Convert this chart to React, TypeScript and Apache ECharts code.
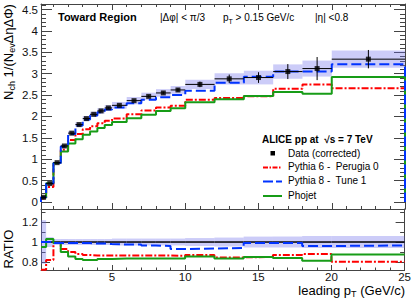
import React, { useEffect, useRef } from "react";
import * as echarts from "echarts";

const binEdges = [0.15, 0.5, 1, 1.5, 2, 2.5, 3, 3.5, 4, 4.5, 5, 6, 7, 8, 9, 10, 12, 14, 16, 18, 20, 25];
const dataValues = [0.11, 0.43, 0.92, 1.31, 1.61, 1.81, 1.95, 2.05, 2.13, 2.2, 2.26, 2.37, 2.47, 2.55, 2.62, 2.75, 2.88, 2.91, 3.05, 3.12, 3.34];
const dataStatErrors = [0.005, 0.005, 0.01, 0.01, 0.01, 0.01, 0.01, 0.01, 0.015, 0.015, 0.015, 0.02, 0.025, 0.03, 0.04, 0.065, 0.1, 0.125, 0.175, 0.27, 0.215];
const dataSystFractions = [0.22, 0.05, 0.03, 0.03, 0.03, 0.03, 0.03, 0.03, 0.03, 0.03, 0.035, 0.035, 0.035, 0.035, 0.035, 0.04, 0.045, 0.055, 0.055, 0.06, 0.06];
const pythia6Values = [0.08, 0.35, 0.91, 1.22, 1.45, 1.59, 1.7, 1.77, 1.84, 1.9, 1.95, 2.05, 2.14, 2.21, 2.25, 2.39, 2.43, 2.47, 2.65, 2.75, 2.66];
const pythia8Values = [0.11, 0.43, 0.91, 1.3, 1.59, 1.79, 1.93, 2.02, 2.1, 2.16, 2.21, 2.31, 2.39, 2.45, 2.5, 2.6, 2.79, 2.93, 3.05, 3.05, 3.22];
const phojetValues = [0.105, 0.44, 0.91, 1.18, 1.37, 1.47, 1.57, 1.65, 1.73, 1.8, 1.87, 1.96, 2.04, 2.13, 2.19, 2.33, 2.4, 2.48, 2.57, 2.53, 2.92];
const pythia6Ratios = [0.72, 0.82, 0.99, 0.93, 0.9, 0.88, 0.87, 0.865, 0.865, 0.865, 0.865, 0.865, 0.865, 0.865, 0.86, 0.87, 0.845, 0.85, 0.87, 0.88, 0.8];
const pythia8Ratios = [1.0, 1.0, 0.99, 0.99, 0.99, 0.99, 0.99, 0.985, 0.985, 0.98, 0.975, 0.975, 0.965, 0.96, 0.93, 0.935, 0.94, 0.99, 0.99, 0.96, 0.965];
const phojetRatios = [0.95, 1.03, 0.99, 0.9, 0.855, 0.83, 0.82, 0.82, 0.83, 0.83, 0.835, 0.835, 0.835, 0.835, 0.835, 0.855, 0.835, 0.85, 0.84, 0.81, 0.875];

const xMajorTicks = [5, 10, 15, 20, 25];
const xMinorTicks = Array.from({ length: 25 }, (_, i) => i + 1);
const yMajorTicks = [0, 0.5, 1, 1.5, 2, 2.5, 3, 3.5, 4, 4.5];
const yMinorTicks = Array.from({ length: 47 }, (_, i) => +(i * 0.1).toFixed(1));
const ratioMajorTicks = [0.8, 1, 1.2];
const ratioMinorTicks = [0.8, 0.9, 1, 1.1, 1.2, 1.3];

const FONT = '"Liberation Sans", Arial, Helvetica, sans-serif';
const AXIS_COLOR = "#444";
const BAND_COLOR = "rgba(110,110,235,0.35)";
const RED = "#ff0000";
const BLUE = "#0033ff";
const GREEN = "#179c17";

const X_MIN = 0.15, X_MAX = 25;
const Y_MIN = -0.164, Y_MAX = 4.63;
const R_MIN = 0.718, R_MAX = 1.333;

function stepPoints(vals: number[], dropEnds: boolean) {
  const pts: number[][] = [];
  if (dropEnds) pts.push([binEdges[0], 0]);
  vals.forEach((v, i) => pts.push([binEdges[i], v]));
  pts.push([binEdges[binEdges.length - 1], vals[vals.length - 1]]);
  if (dropEnds) pts.push([binEdges[binEdges.length - 1], 0]);
  return pts;
}

function xAxisDef(grid: number, position: string, ticks: number[], len: number, showLine: boolean, labels: boolean) {
  return {
    type: "value", gridIndex: grid, position, min: X_MIN, max: X_MAX,
    splitLine: { show: false },
    axisLine: { show: showLine, onZero: false, lineStyle: { color: AXIS_COLOR, width: 1 } },
    axisTick: { show: true, inside: true, length: len, customValues: ticks, lineStyle: { color: AXIS_COLOR } },
    axisLabel: labels
      ? { show: true, customValues: ticks, margin: 1, fontSize: 11.5, color: "#111", fontFamily: FONT, showMinLabel: true, showMaxLabel: true }
      : { show: false },
  };
}

function yAxisDef(grid: number, position: string, min: number, max: number, ticks: number[], len: number, showLine: boolean) {
  return {
    type: "value", gridIndex: grid, position, min, max,
    splitLine: { show: false },
    axisLine: { show: showLine, onZero: false, lineStyle: { color: AXIS_COLOR, width: 1 } },
    axisTick: { show: true, inside: true, length: len, customValues: ticks, lineStyle: { color: AXIS_COLOR } },
    axisLabel: { show: false },
  };
}

export default function App() {
  const ref = useRef<HTMLDivElement>(null);
  useEffect(() => {
    document.body.style.margin = "0";
    if (!ref.current) return;
    const chart = echarts.init(ref.current, undefined, { renderer: "svg" });

    const bandTop = dataValues.map((v, i) => [binEdges[i], binEdges[i + 1], v, v * dataSystFractions[i], dataStatErrors[i]]);
    const bandRatio = dataValues.map((v, i) => [binEdges[i], binEdges[i + 1], 1, dataSystFractions[i]]);
    const centers = dataValues.map((v, i) => [(binEdges[i] + binEdges[i + 1]) / 2, v]);

    const sub = (size: number) => ({ fontSize: size, fontFamily: FONT, color: "#000", lineHeight: 6, verticalAlign: "bottom" });
    const norm = (size: number) => ({ fontSize: size, fontFamily: FONT, color: "#000", lineHeight: 16 });

    const option: any = {
      animation: false,
      grid: [
        { left: 41, right: 9, top: 4, height: 205 },
        { left: 41, right: 9, top: 209, height: 61 },
      ],
      xAxis: [
        xAxisDef(0, "bottom", xMajorTicks, 6, true, false),
        xAxisDef(0, "bottom", xMinorTicks, 3, false, false),
        xAxisDef(0, "top", xMajorTicks, 6, true, false),
        xAxisDef(0, "top", xMinorTicks, 3, false, false),
        xAxisDef(1, "bottom", xMajorTicks, 5, true, true),
        xAxisDef(1, "bottom", xMinorTicks, 2.5, false, false),
      ],
      yAxis: [
        yAxisDef(0, "left", Y_MIN, Y_MAX, yMajorTicks, 11, true),
        yAxisDef(0, "left", Y_MIN, Y_MAX, yMinorTicks, 5, false),
        yAxisDef(0, "right", Y_MIN, Y_MAX, yMajorTicks, 11, true),
        yAxisDef(0, "right", Y_MIN, Y_MAX, yMinorTicks, 5, false),
        yAxisDef(1, "left", R_MIN, R_MAX, ratioMajorTicks, 9, true),
        yAxisDef(1, "left", R_MIN, R_MAX, ratioMinorTicks, 4.5, false),
        yAxisDef(1, "right", R_MIN, R_MAX, ratioMajorTicks, 9, true),
        yAxisDef(1, "right", R_MIN, R_MAX, ratioMinorTicks, 4.5, false),
      ],
      series: [
        {
          type: "custom", xAxisIndex: 0, yAxisIndex: 0, clip: true, z: 1,
          data: bandTop,
          encode: { x: [0, 1], y: 2 },
          renderItem: (params: any, api: any) => {
            const x0 = api.value(0), x1 = api.value(1), v = api.value(2), e = api.value(3);
            const a = api.coord([x0, v + e]);
            const b = api.coord([x1, v - e]);
            return { type: "rect", shape: { x: a[0], y: a[1], width: b[0] - a[0], height: b[1] - a[1] }, style: { fill: BAND_COLOR } };
          },
        },
        {
          type: "line", xAxisIndex: 0, yAxisIndex: 0, step: "end", symbol: "none", z: 3,
          data: stepPoints(pythia6Values, true),
          lineStyle: { color: RED, width: 2, type: [7, 2, 2, 2] },
        },
        {
          type: "line", xAxisIndex: 0, yAxisIndex: 0, step: "end", symbol: "none", z: 3,
          data: stepPoints(phojetValues, true),
          lineStyle: { color: GREEN, width: 2, type: "solid" },
        },
        {
          type: "line", xAxisIndex: 0, yAxisIndex: 0, step: "end", symbol: "none", z: 4,
          data: stepPoints(pythia8Values, true),
          lineStyle: { color: BLUE, width: 2, type: [10, 4] },
        },
        {
          type: "custom", xAxisIndex: 0, yAxisIndex: 0, clip: true, z: 5,
          data: bandTop,
          encode: { x: [0, 1], y: 2 },
          renderItem: (params: any, api: any) => {
            const x0 = api.value(0), x1 = api.value(1), v = api.value(2), s = api.value(4);
            const a = api.coord([x0, v]);
            const b = api.coord([x1, v]);
            const c = api.coord([(x0 + x1) / 2, v + s]);
            const d = api.coord([(x0 + x1) / 2, v - s]);
            return {
              type: "group",
              children: [
                { type: "line", shape: { x1: a[0], y1: a[1], x2: b[0], y2: b[1] }, style: { stroke: "#000", lineWidth: 1 } },
                { type: "line", shape: { x1: c[0], y1: c[1], x2: d[0], y2: d[1] }, style: { stroke: "#000", lineWidth: 1 } },
              ],
            };
          },
        },
        {
          type: "scatter", xAxisIndex: 0, yAxisIndex: 0, z: 6,
          data: centers, symbol: "rect", symbolSize: 5,
          itemStyle: { color: "#000" },
        },
        {
          type: "custom", xAxisIndex: 4, yAxisIndex: 4, clip: true, z: 1,
          data: bandRatio,
          encode: { x: [0, 1], y: 2 },
          renderItem: (params: any, api: any) => {
            const x0 = api.value(0), x1 = api.value(1), v = api.value(2), e = api.value(3);
            const a = api.coord([x0, v + e]);
            const b = api.coord([x1, v - e]);
            const c = api.coord([x0, v]);
            const d = api.coord([x1, v]);
            return {
              type: "group",
              children: [
                { type: "rect", shape: { x: a[0], y: a[1], width: b[0] - a[0], height: b[1] - a[1] }, style: { fill: BAND_COLOR } },
                { type: "line", shape: { x1: c[0], y1: c[1], x2: d[0], y2: d[1] }, style: { stroke: "#000", lineWidth: 1.5 } },
              ],
            };
          },
        },
        {
          type: "line", xAxisIndex: 4, yAxisIndex: 4, step: "end", symbol: "none", z: 3,
          data: stepPoints(pythia6Ratios, false),
          lineStyle: { color: RED, width: 2, type: [7, 2, 2, 2] },
        },
        {
          type: "line", xAxisIndex: 4, yAxisIndex: 4, step: "end", symbol: "none", z: 3,
          data: stepPoints(phojetRatios, false),
          lineStyle: { color: GREEN, width: 2, type: "solid" },
        },
        {
          type: "line", xAxisIndex: 4, yAxisIndex: 4, step: "end", symbol: "none", z: 4,
          data: stepPoints(pythia8Ratios, false),
          lineStyle: { color: BLUE, width: 2, type: [10, 4] },
        },
      ],
    };
    chart.setOption(option);

    const labelStyle = { fontSize: 11.5, fontFamily: FONT, fill: "#111", align: "right", verticalAlign: "middle" };
    const fmt = (v: number) => String(+v.toFixed(2));
    const yLabels = yMajorTicks.map((v) => ({
      type: "text", z: 100, x: 38, y: chart.convertToPixel({ yAxisIndex: 0 }, v) as number,
      style: { ...labelStyle, text: fmt(v) },
    }));
    const rLabels = ratioMajorTicks.map((v) => ({
      type: "text", z: 100, x: 38, y: chart.convertToPixel({ yAxisIndex: 4 }, v) as number,
      style: { ...labelStyle, text: fmt(v) },
    }));

    const graphics: any[] = [
      ...yLabels,
      ...rLabels,
      {
        type: "text", x: 8, y: 52, rotation: Math.PI / 2,
        style: {
          text: "{n|N}{s|ch}{n| 1/(N}{s|ev}{n|ΔηΔΦ)}",
          rich: { n: norm(13), s: sub(9) },
          align: "center", verticalAlign: "middle",
        },
      },
      {
        type: "text", x: 8, y: 249, rotation: Math.PI / 2,
        style: { text: "RATIO", fontSize: 13, fontFamily: FONT, fill: "#000", align: "center", verticalAlign: "middle" },
      },
      {
        type: "text", x: 405, y: 290,
        style: {
          text: "{n|leading p}{s|T}{n| (GeV/c)}",
          rich: { n: norm(13), s: sub(9) },
          align: "right", verticalAlign: "middle",
        },
      },
      {
        type: "text", x: 58, y: 17,
        style: { text: "Toward Region", fontSize: 11, fontWeight: "bold", fontFamily: FONT, fill: "#000", align: "left", verticalAlign: "middle" },
      },
      {
        type: "text", x: 160, y: 17,
        style: { text: "|Δφ| < π/3", fontSize: 10, fontFamily: FONT, fill: "#000", align: "left", verticalAlign: "middle" },
      },
      {
        type: "text", x: 223, y: 17,
        style: {
          text: "{n|p}{s|T}{n| > 0.15 GeV/c}",
          rich: { n: norm(10), s: sub(7) },
          align: "left", verticalAlign: "middle",
        },
      },
      {
        type: "text", x: 315, y: 17,
        style: { text: "|η| <0.8", fontSize: 10, fontFamily: FONT, fill: "#000", align: "left", verticalAlign: "middle" },
      },
      {
        type: "text", x: 262, y: 139.5,
        style: { text: "ALICE pp at  √s = 7 TeV", fontSize: 10, fontWeight: "bold", fontFamily: FONT, fill: "#000", align: "left", verticalAlign: "middle" },
      },
      { type: "rect", shape: { x: 270.5, y: 151, width: 4.5, height: 4.5 }, style: { fill: "#000" } },
      {
        type: "text", x: 288, y: 153.5,
        style: { text: "Data (corrected)", fontSize: 10, fontFamily: FONT, fill: "#000", align: "left", verticalAlign: "middle" },
      },
      { type: "line", shape: { x1: 263, y1: 167.5, x2: 282, y2: 167.5 }, style: { stroke: RED, lineWidth: 2, lineDash: [5, 1.5, 1.5, 1.5] } },
      {
        type: "text", x: 288, y: 166.5,
        style: { text: "Pythia 6 -  Perugia 0", fontSize: 10, fontFamily: FONT, fill: "#000", align: "left", verticalAlign: "middle" },
      },
      { type: "line", shape: { x1: 263, y1: 181.5, x2: 282, y2: 181.5 }, style: { stroke: BLUE, lineWidth: 2, lineDash: [10, 3] } },
      {
        type: "text", x: 288, y: 180.5,
        style: { text: "Pythia 8 -  Tune 1", fontSize: 10, fontFamily: FONT, fill: "#000", align: "left", verticalAlign: "middle" },
      },
      { type: "line", shape: { x1: 263, y1: 196, x2: 282, y2: 196 }, style: { stroke: GREEN, lineWidth: 2 } },
      {
        type: "text", x: 288, y: 195,
        style: { text: "Phojet", fontSize: 10, fontFamily: FONT, fill: "#000", align: "left", verticalAlign: "middle" },
      },
    ];
    chart.setOption({ graphic: graphics });
    return () => chart.dispose();
  }, []);
  return <div ref={ref} style={{ width: 414, height: 300 }} />;
}
